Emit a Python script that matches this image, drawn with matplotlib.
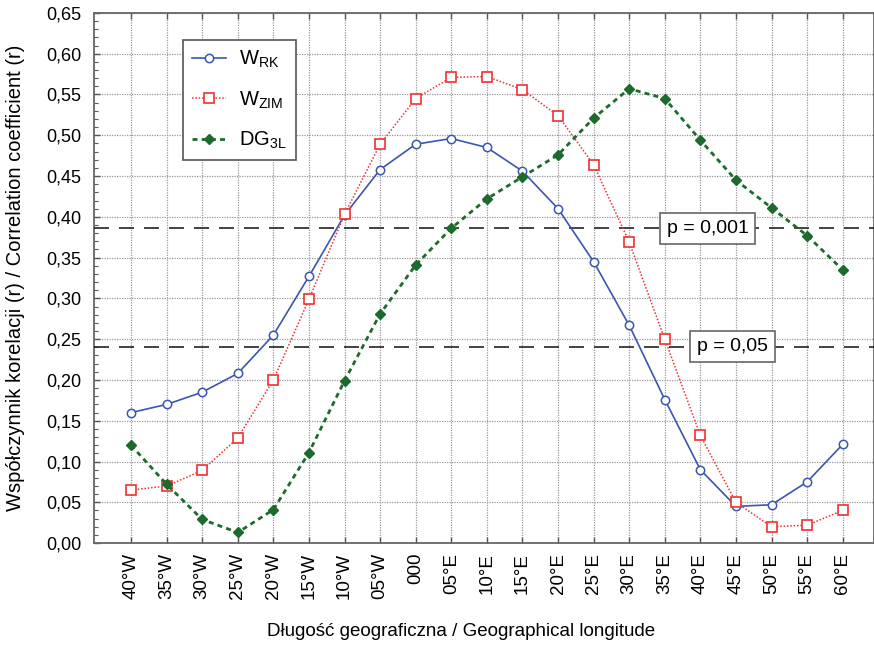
import matplotlib

matplotlib.use("Agg")
import matplotlib.pyplot as plt  # noqa: E402
from matplotlib.ticker import MultipleLocator  # noqa: E402

plt.rcParams["font.family"] = ["Liberation Sans", "DejaVu Sans"]
plt.rcParams["mathtext.fontset"] = "custom"
plt.rcParams["mathtext.rm"] = "Liberation Sans"
plt.rcParams["mathtext.it"] = "Liberation Sans"

# longitude labels along the x axis
longitudes = [
    "40°W", "35°W", "30°W", "25°W", "20°W", "15°W", "10°W", "05°W", "000",
    "05°E", "10°E", "15°E", "20°E", "25°E", "30°E", "35°E", "40°E", "45°E",
    "50°E", "55°E", "60°E",
]

# correlation coefficients per longitude
w_rk = [0.160, 0.170, 0.185, 0.208, 0.255, 0.327, 0.402, 0.458, 0.489, 0.496, 0.485,
        0.456, 0.410, 0.345, 0.267, 0.176, 0.090, 0.045, 0.047, 0.075, 0.121]
w_zim = [0.065, 0.070, 0.089, 0.129, 0.200, 0.299, 0.403, 0.489, 0.545, 0.571, 0.572,
         0.556, 0.524, 0.464, 0.369, 0.250, 0.132, 0.050, 0.020, 0.022, 0.040]
dg_3l = [0.120, 0.072, 0.029, 0.013, 0.041, 0.111, 0.199, 0.281, 0.341, 0.386, 0.422,
         0.449, 0.476, 0.521, 0.557, 0.545, 0.494, 0.445, 0.411, 0.377, 0.335]

# significance thresholds
p_levels = [0.386, 0.241]
p_labels = ["p = 0,001", "p = 0,05"]
p_label_x = [16.2, 16.9]

x = list(range(len(longitudes)))

fig = plt.figure(figsize=(8.74, 6.45), dpi=100)
ax = fig.add_axes([0.1076, 0.158, 0.8924, 0.822])

ax.plot(x, w_rk, color="#3a56b0", linestyle="-", linewidth=1.2, marker="o",
        markersize=6, markerfacecolor="white", markeredgecolor="#3a56b0",
        markeredgewidth=1.1, label=r"W$_{\mathrm{RK}}$", zorder=4)
ax.plot(x, w_zim, color="#f03030", linestyle=(0, (1, 1.2)), linewidth=1.1, marker="s",
        markersize=7, markerfacecolor="white", markeredgecolor="#f03030",
        markeredgewidth=1.2, label=r"W$_{\mathrm{ZIM}}$", zorder=4)
ax.plot(x, dg_3l, color="#1c6b2c", linestyle=(0, (1.8, 1.5)), linewidth=2.0, marker="D",
        markersize=5.5, markerfacecolor="#1c6b2c", markeredgecolor="#1c6b2c",
        label=r"DG$_{\mathrm{3L}}$", zorder=4)

for level, text, tx in zip(p_levels, p_labels, p_label_x):
    ax.axhline(level, color="#222222", linestyle=(0, (9, 6)), linewidth=1.2, zorder=3)
    ax.text(tx, level, text, fontsize=14, ha="center", va="center", zorder=5,
            bbox=dict(boxstyle="square,pad=0.35", facecolor="white",
                      edgecolor="#666666", linewidth=1.2))

ax.set_xlim(-1.04, 20.88)
ax.set_ylim(0, 0.65)
ax.set_xticks(x)
ax.set_xticklabels(longitudes, rotation=90, fontsize=13.5)
ax.yaxis.set_major_locator(MultipleLocator(0.05))
ax.yaxis.set_minor_locator(MultipleLocator(0.01))
ax.set_yticklabels([f"{v:.2f}".replace(".", ",") for v in ax.get_yticks()], fontsize=13)
ax.tick_params(axis="both", which="both", direction="in", top=True, colors="#555555",
               labelcolor="black")
ax.tick_params(axis="both", which="major", length=4, width=1)
ax.tick_params(axis="y", which="minor", length=3, width=0.8)
ax.tick_params(axis="x", which="major", pad=7)
ax.tick_params(axis="y", which="major", pad=9)

ax.grid(True, which="major", color="#999999", linestyle=(0, (1, 1)), linewidth=0.9)
for side in ["left", "bottom", "top", "right"]:
    ax.spines[side].set_color("#666666")
    ax.spines[side].set_linewidth(1.3)

ax.set_xlabel("Długość geograficzna / Geographical longitude", fontsize=13.5)
ax.xaxis.set_label_coords(0.471, -0.150)
ax.set_ylabel("Współczynnik korelacji (r) / Correlation coefficient (r)", fontsize=14.5)
ax.yaxis.set_label_coords(-0.088, 0.5)

leg = ax.legend(loc="upper left", bbox_to_anchor=(0.114, 0.949), borderaxespad=0,
                fontsize=14.5, handlelength=1.7, labelspacing=0.95, borderpad=0.45,
                handletextpad=0.65, fancybox=False, framealpha=1, edgecolor="#555555")
leg.get_frame().set_linewidth(1.2)

fig.savefig("out.png", dpi=100)
